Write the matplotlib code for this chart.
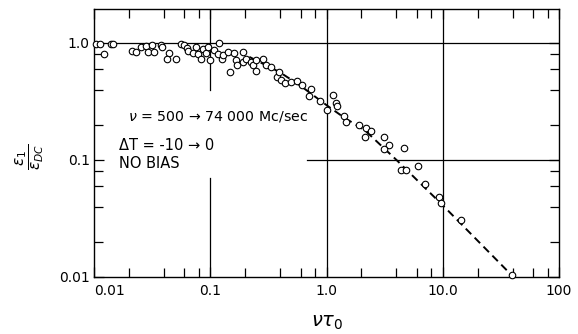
import matplotlib
matplotlib.use("Agg")
import matplotlib.pyplot as plt
from matplotlib.ticker import LogLocator, FixedFormatter, FixedLocator, NullFormatter

# measured points (nu*tau0, eps1/epsDC)
x_pts = [0.01035, 0.0112, 0.01227, 0.01393, 0.01467,
         0.0211, 0.0232, 0.0254, 0.0279, 0.0294, 0.0316, 0.0326, 0.0374, 0.0386,
         0.0446, 0.0428, 0.0506, 0.0562, 0.0597, 0.0627, 0.0646, 0.0714, 0.075,
         0.078, 0.0836, 0.0859, 0.0914, 0.0948, 0.0986,
         0.108, 0.1196, 0.1156, 0.125, 0.1294, 0.143, 0.1486, 0.161, 0.166, 0.171,
         0.19, 0.192, 0.204, 0.225, 0.232, 0.248, 0.248, 0.286, 0.302, 0.334,
         0.374, 0.393, 0.409, 0.443, 0.495, 0.557, 0.615,
         0.738, 0.714, 0.879, 1.01, 1.137, 1.219, 1.233, 1.416, 1.48, 1.9, 2.18,
         2.41, 2.15, 3.1, 3.44, 3.1, 4.61, 4.38, 4.8, 6.18, 7.0, 9.3, 9.6, 14.3, 39.1]
y_pts = [0.975, 0.975, 0.805, 0.975, 0.975,
         0.859, 0.833, 0.924, 0.948, 0.843, 0.952, 0.833, 0.956, 0.915,
         0.826, 0.734, 0.730, 0.975, 0.952, 0.912, 0.846, 0.821, 0.930,
         0.805, 0.730, 0.880, 0.817, 0.915, 0.720,
         0.871, 1.006, 0.805, 0.730, 0.789, 0.843, 0.569, 0.817, 0.716, 0.642,
         0.843, 0.681, 0.723, 0.681, 0.645, 0.716, 0.571, 0.723, 0.649, 0.627,
         0.512, 0.569, 0.478, 0.451, 0.46, 0.473, 0.438,
         0.402, 0.349, 0.318, 0.265, 0.356, 0.307, 0.287, 0.238, 0.212, 0.2, 0.188,
         0.178, 0.157, 0.157, 0.134, 0.124, 0.127, 0.0822, 0.0813, 0.0889, 0.062,
         0.0485, 0.0431, 0.0307, 0.0104]

# dashed theory curve
x_fit = [0.217, 0.393, 0.585, 1.02, 1.43, 2.13, 4.0, 10.0, 39.0]
y_fit = [0.76, 0.565, 0.437, 0.29, 0.229, 0.18, 0.1, 0.041, 0.0104]

x_ticks = [0.01, 0.1, 1.0, 10.0, 100.0]
x_labels = ["0.01", "0.1", "1.0", "10.0", "100"]
y_ticks = [0.01, 0.1, 1.0]
y_labels = ["0.01", "0.1", "1.0"]

W, H = 578, 334
fig = plt.figure(figsize=(W / 100, H / 100), dpi=100)
ax = fig.add_axes([94 / W, 1 - 277 / H, 465 / W, 268 / H])
ax.set_xscale("log")
ax.set_yscale("log")
ax.set_xlim(0.01, 100)
ax.set_ylim(0.01, 1.95)

# partial grid lines like the original
gl = dict(color="black", lw=0.9, zorder=1)
ax.axhline(1.0, **gl)
ax.axvline(1.0, **gl)
ax.axvline(10.0, **gl)
ax.axvline(0.1, ymin=0.698, ymax=1, **gl)
ax.axvline(0.1, ymin=0, ymax=0.369, **gl)
ax.axhline(0.1, xmin=0.458, xmax=1, **gl)

ax.plot(x_fit, y_fit, color="black", lw=1.4, dashes=(4, 2.5), zorder=2)
ax.scatter(x_pts, y_pts, s=22, facecolors="white", edgecolors="black",
           linewidths=0.8, zorder=3, clip_on=False)

ax.xaxis.set_major_locator(FixedLocator(x_ticks))
ax.xaxis.set_major_formatter(FixedFormatter(x_labels))
ax.yaxis.set_major_locator(FixedLocator(y_ticks))
ax.yaxis.set_major_formatter(FixedFormatter(y_labels))
ax.xaxis.set_minor_locator(LogLocator(base=10, subs=[2, 4, 6, 8]))
ax.yaxis.set_minor_locator(LogLocator(base=10, subs=[2, 4, 6, 8]))
ax.xaxis.set_minor_formatter(NullFormatter())
ax.yaxis.set_minor_formatter(NullFormatter())
ax.tick_params(which="both", direction="in", top=True, right=True, width=0.9)
ax.tick_params(which="major", length=7, labelsize=10)
ax.tick_params(axis="y", which="major", pad=3)
ax.tick_params(axis="x", which="major", pad=5)
ax.tick_params(which="minor", length=6.5)
ax.get_xticklabels()[0].set_ha("left")
for s in ax.spines.values():
    s.set_linewidth(1.0)

fig.text(128 / W, 1 - 117 / H, r"$\nu$ = 500 → 74 000 Mc/sec", fontsize=10.2,
         va="center", ha="left")
fig.text(119 / W, 1 - 145 / H, "ΔT = -10 → 0", fontsize=10.5, va="center", ha="left")
fig.text(119 / W, 1 - 163 / H, "NO BIAS", fontsize=10.5, va="center", ha="left")

fig.text(327 / W, 1 - 322 / H, r"$\nu\tau_0$", fontsize=14, ha="center", va="center")
fig.text(30 / W, 1 - 157 / H, r"$\dfrac{\epsilon_1}{\epsilon_{DC}}$", fontsize=11,
         rotation=90, ha="center", va="center")

fig.savefig("out.png", dpi=100)
